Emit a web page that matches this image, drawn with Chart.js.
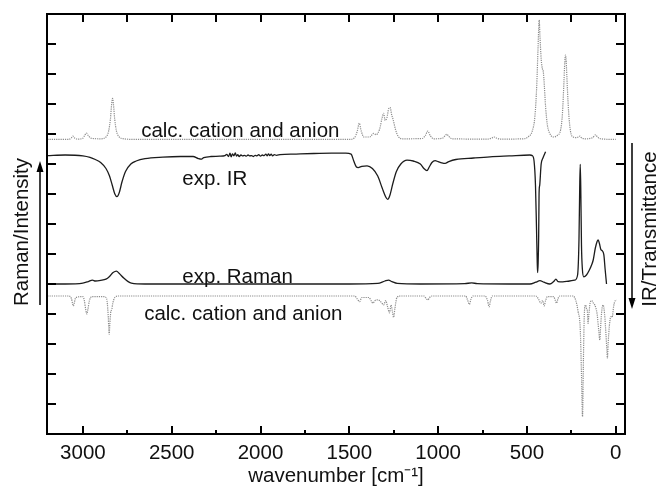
<!DOCTYPE html>
<html>
<head>
<meta charset="utf-8">
<script src="https://cdn.jsdelivr.net/npm/chart.js@4.4.1/dist/chart.umd.min.js"></script>
<style>
  html, body { margin: 0; padding: 0; background: #fff; }
  canvas { display: block; }
</style>
</head>
<body>
<canvas id="spectra" width="658" height="489"></canvas>
<script>
// axis ticks
const xMajorTicks = [3000, 2500, 2000, 1500, 1000, 500, 0];
const xMinorTicks = [2750, 2250, 1750, 1250, 750, 250];
const yTicks = [1, 2, 3, 4, 5, 6, 7, 8, 9, 10, 11, 12, 13];

// calc. cation and anion (upper, Raman)
const calcTopWn = [3200, 3080, 3065, 3056, 3047, 3030, 3000, 2990, 2980, 2970, 2955, 2900, 2870, 2855, 2845, 2838, 2833, 2828, 2821, 2811, 2795, 2770, 2700,
  1500, 1470, 1455, 1444, 1433, 1418, 1385, 1363, 1350, 1330, 1315, 1307, 1298, 1288, 1278, 1270, 1262, 1253, 1240, 1225, 1200,
  1090, 1072, 1058, 1045, 1025, 975, 960, 951, 940, 920, 720, 700, 685, 670, 650,
  520, 490, 470, 455, 445, 438, 434, 431, 427, 420, 412, 408, 402, 395, 385, 370, 350, 330, 310, 300, 292, 287, 283, 279, 273, 265, 255, 240,
  220, 210, 202, 195, 170, 130, 114, 100, 70, 0];
const calcTopVal = [9.82, 9.82, 9.87, 9.93, 9.87, 9.83, 9.86, 9.95, 10.03, 9.95, 9.86, 9.84, 9.9, 10.1, 10.5, 11.0, 11.19, 11.0, 10.5, 10.1, 9.9, 9.84, 9.82,
  9.82, 9.88, 10.1, 10.36, 10.1, 9.9, 9.9, 10.02, 9.98, 10.15, 10.55, 10.69, 10.45, 10.55, 10.85, 10.88, 10.65, 10.47, 10.15, 9.92, 9.84,
  9.85, 9.95, 10.1, 9.95, 9.84, 9.86, 9.95, 9.99, 9.92, 9.84, 9.83, 9.86, 9.9, 9.86, 9.83,
  9.84, 9.92, 10.1, 10.6, 11.6, 12.8, 13.5, 13.8, 13.3, 12.5, 12.15, 12.08, 11.6, 10.9, 10.3, 10.0, 9.9, 9.95, 10.15, 10.7, 11.7, 12.4, 12.63, 12.4, 11.6, 10.7, 10.1, 9.9,
  9.88, 9.9, 9.93, 9.88, 9.84, 9.88, 9.97, 9.88, 9.83, 9.82];

// exp. IR (transmittance, drawn inverted)
const irWn = [3200, 3100, 3000, 2960, 2930, 2900, 2870, 2850, 2835, 2820, 2808, 2795, 2780, 2760, 2730, 2700, 2650, 2550, 2450, 2380, 2350, 2335, 2320, 2280, 2230,
  2200, 2190, 2180, 2172, 2165, 2158, 2150, 2142, 2135, 2128, 2120, 2110, 2100, 2090, 2080, 2070, 2060, 2050, 2040, 2030, 2020, 2010, 2000, 1990, 1980, 1970, 1962, 1955, 1948, 1940, 1932, 1922, 1910, 1890,
  1800, 1700, 1600, 1520, 1490, 1475, 1460, 1450, 1430, 1400, 1370, 1340, 1315, 1295, 1284, 1272, 1255, 1235, 1210, 1175, 1140, 1100, 1080, 1063, 1050, 1035, 1017, 1000, 980, 961, 940, 900,
  800, 708, 600, 483, 470, 460, 452, 446, 442, 440, 437, 434, 432, 431, 428, 420, 410, 395];
const irVal = [9.28, 9.3, 9.27, 9.22, 9.15, 9.05, 8.85, 8.6, 8.3, 8.0, 7.91, 8.05, 8.4, 8.75, 9.0, 9.1, 9.18, 9.23, 9.25, 9.25, 9.18, 9.16, 9.21, 9.25, 9.26,
  9.28, 9.32, 9.25, 9.36, 9.24, 9.34, 9.27, 9.37, 9.26, 9.31, 9.25, 9.3, 9.27, 9.29, 9.26, 9.3, 9.27, 9.28, 9.25, 9.29, 9.27, 9.31, 9.26, 9.3, 9.28, 9.33, 9.27, 9.34, 9.28, 9.33, 9.27, 9.31, 9.29, 9.31,
  9.33, 9.35, 9.36, 9.36, 9.33, 9.1, 8.9, 8.88, 8.92, 8.94, 8.85, 8.6, 8.2, 7.9, 7.82, 7.95, 8.35, 8.75, 9.0, 9.13, 9.1, 9.0, 8.85, 8.78, 8.9, 9.05, 9.11, 9.08, 9.04, 9.02, 9.08, 9.15,
  9.2, 9.24, 9.27, 9.3, 9.28, 9.1, 8.3, 6.8, 5.7, 5.38, 5.7, 6.6, 7.9, 8.15, 8.3, 9.0, 9.2, 9.41];

// exp. Raman
const ramanWn = [3200, 3100, 3000, 2970, 2946, 2930, 2900, 2870, 2850, 2830, 2811, 2795, 2770, 2745, 2727, 2650,
  1500, 1340, 1300, 1279, 1260, 1230, 1100, 850, 811, 780, 600, 483, 450, 427, 405, 371, 350, 337, 325, 298, 260, 230,
  215, 207, 203, 200, 197, 193, 188, 180, 165, 150, 135, 127, 115, 105, 99, 92, 84, 75, 67, 60, 52];
const ramanVal = [5.0, 5.0, 5.03, 5.08, 5.13, 5.1, 5.12, 5.16, 5.25, 5.38, 5.43, 5.35, 5.2, 5.08, 5.03, 5.0,
  5.0, 5.02, 5.1, 5.13, 5.08, 5.02, 5.0, 5.01, 5.04, 5.01, 5.0, 5.0, 5.06, 5.11, 5.06, 5.0, 5.08, 5.16, 5.08, 5.07, 5.1, 5.13,
  5.3, 6.5, 8.2, 8.99, 8.2, 6.3, 5.5, 5.24, 5.3, 5.45, 5.65, 5.8, 6.2, 6.42, 6.47, 6.35, 6.15, 6.1, 5.97, 5.5, 5.0];

// calc. cation and anion (lower, IR, drawn downward)
const calcBotWn = [3200, 3080, 3065, 3058, 3054, 3049, 3040, 3000, 2992, 2984, 2978, 2972, 2963, 2950, 2880, 2866, 2858, 2854, 2852, 2848, 2842, 2838, 2832, 2820, 2800,
  1470, 1455, 1442, 1430, 1390, 1375, 1367, 1355, 1344, 1330, 1315, 1307, 1295, 1285, 1274, 1265, 1258, 1251, 1243, 1232, 1210,
  1080, 1068, 1058, 1048, 1035, 845, 835, 824, 815, 805, 735, 722, 713, 705, 695,
  450, 435, 421, 412, 403, 395, 385, 350, 340, 333, 326, 315, 240, 225, 212, 200, 193, 187, 182, 177, 170, 165, 160, 156, 151, 145, 135, 127,
  118, 105, 95, 90, 85, 78, 71, 63, 55, 50, 47, 43, 36, 28, 20, 12, 6, -4];
const calcBotVal = [4.6, 4.6, 4.52, 4.35, 4.27, 4.35, 4.55, 4.58, 4.45, 4.15, 4.0, 4.15, 4.45, 4.58, 4.58, 4.5, 4.0, 3.5, 3.32, 3.7, 4.1, 4.13, 4.35, 4.55, 4.6,
  4.6, 4.5, 4.41, 4.55, 4.55, 4.42, 4.36, 4.45, 4.47, 4.45, 4.35, 4.3, 4.45, 4.25, 4.04, 4.3, 4.1, 3.89, 4.2, 4.55, 4.6,
  4.6, 4.52, 4.47, 4.55, 4.6, 4.6, 4.48, 4.32, 4.5, 4.6, 4.6, 4.45, 4.24, 4.45, 4.6,
  4.6, 4.5, 4.36, 4.45, 4.27, 4.45, 4.58, 4.58, 4.45, 4.36, 4.5, 4.6, 4.6, 4.45, 4.08, 3.5, 2.0, 0.58, 2.5, 4.0, 4.3, 4.19, 4.1, 3.69, 4.0, 4.35, 4.45, 4.37,
  4.3, 4.0, 3.4, 3.13, 3.6, 4.15, 4.3, 4.0, 3.3, 2.8, 2.52, 3.0, 3.6, 3.91, 3.9, 4.25, 4.41, 4.47];

const FONT = '"Liberation Sans", Arial, sans-serif';

function toPoints(wn, val) {
    return wn.map((x, i) => ({ x: x, y: val[i] }));
}

function lineSet(label, wn, val, dotted) {
    return {
        label: label,
        data: toPoints(wn, val),
        showLine: true,
        pointRadius: 0,
        borderColor: dotted ? '#8c8c8c' : '#1c1c1c',
        borderWidth: dotted ? 1.2 : 1.3,
        borderDash: dotted ? [1.2, 1] : [],
        cubicInterpolationMode: 'monotone'
    };
}

// frame, inward ticks, side titles, arrows and curve labels
const decorations = {
    id: 'decorations',
    afterDraw(chart) {
        const ctx = chart.ctx;
        const area = chart.chartArea;
        const xs = chart.scales.x;
        const ys = chart.scales.y;
        ctx.save();
        ctx.strokeStyle = '#000';
        ctx.lineWidth = 2;
        ctx.strokeRect(area.left, area.top, area.right - area.left, area.bottom - area.top);

        ctx.beginPath();
        xMajorTicks.forEach(v => {
            const px = Math.round(xs.getPixelForValue(v));
            ctx.moveTo(px, area.bottom); ctx.lineTo(px, area.bottom - 8);
            ctx.moveTo(px, area.top); ctx.lineTo(px, area.top + 8);
        });
        xMinorTicks.forEach(v => {
            const px = Math.round(xs.getPixelForValue(v));
            ctx.moveTo(px, area.bottom); ctx.lineTo(px, area.bottom - 4);
            ctx.moveTo(px, area.top); ctx.lineTo(px, area.top + 8);
        });
        yTicks.forEach(v => {
            const py = Math.round(ys.getPixelForValue(v));
            ctx.moveTo(area.left, py); ctx.lineTo(area.left + 9, py);
            ctx.moveTo(area.right, py); ctx.lineTo(area.right - 9, py);
        });
        ctx.stroke();

        // curve labels
        ctx.fillStyle = '#111';
        ctx.font = '20.5px ' + FONT;
        ctx.textAlign = 'left';
        ctx.textBaseline = 'alphabetic';
        const put = (txt, wn, v) => ctx.fillText(txt, xs.getPixelForValue(wn), ys.getPixelForValue(v));
        put('calc. cation and anion', 2672, 9.9);
        put('exp. IR', 2440, 8.3);
        put('exp. Raman', 2440, 5.04);
        put('calc. cation and anion', 2655, 3.8);

        // side titles
        ctx.textAlign = 'center';
        ctx.save();
        ctx.translate(28, 232);
        ctx.rotate(-Math.PI / 2);
        ctx.fillText('Raman/Intensity', 0, 0);
        ctx.restore();
        ctx.save();
        ctx.translate(656, 229);
        ctx.rotate(-Math.PI / 2);
        ctx.fillText('IR/Transmittance', 0, 0);
        ctx.restore();

        // arrows
        ctx.lineWidth = 1.5;
        ctx.beginPath();
        ctx.moveTo(40, 305); ctx.lineTo(40, 170);
        ctx.moveTo(632, 143); ctx.lineTo(632, 300);
        ctx.stroke();
        ctx.fillStyle = '#000';
        ctx.beginPath();
        ctx.moveTo(40, 161); ctx.lineTo(36.5, 172); ctx.lineTo(43.5, 172); ctx.closePath();
        ctx.moveTo(632, 309); ctx.lineTo(628.5, 298); ctx.lineTo(635.5, 298); ctx.closePath();
        ctx.fill();
        ctx.restore();
    }
};

new Chart(document.getElementById('spectra').getContext('2d'), {
    type: 'scatter',
    data: {
        datasets: [
            lineSet('calc. cation and anion (Raman)', calcTopWn, calcTopVal, true),
            lineSet('exp. IR', irWn, irVal, false),
            lineSet('exp. Raman', ramanWn, ramanVal, false),
            lineSet('calc. cation and anion (IR)', calcBotWn, calcBotVal, true)
        ]
    },
    options: {
        responsive: false,
        animation: false,
        layout: { padding: { left: 47, right: 33, top: 14, bottom: 0 } },
        plugins: { legend: { display: false }, tooltip: { enabled: false } },
        scales: {
            x: {
                type: 'linear',
                reverse: true,
                min: -52,
                max: 3202,
                afterBuildTicks: s => { s.ticks = xMajorTicks.map(v => ({ value: v })); },
                afterFit: s => { s.height = 55; },
                grid: { display: false, drawTicks: false },
                border: { display: false },
                ticks: {
                    color: '#111',
                    padding: 7,
                    maxRotation: 0,
                    font: { family: FONT, size: 20.5 },
                    callback: v => String(v)
                },
                title: {
                    display: true,
                    text: 'wavenumber [cm⁻¹]',
                    color: '#111',
                    padding: { top: 0, bottom: 0 },
                    font: { family: FONT, size: 20.5 }
                }
            },
            y: {
                display: false,
                min: 0,
                max: 14
            }
        }
    },
    plugins: [decorations]
});
</script>
</body>
</html>
